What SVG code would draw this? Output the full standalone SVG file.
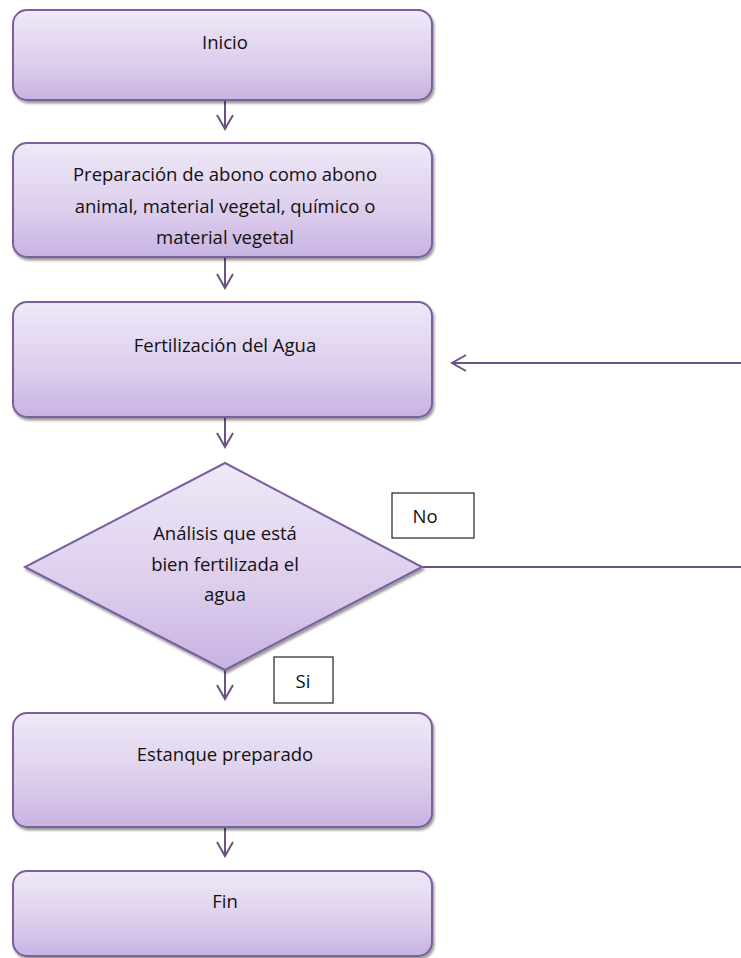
<svg xmlns="http://www.w3.org/2000/svg" width="741" height="958" viewBox="0 0 741 958">
<defs>
<linearGradient id="g" x1="0" y1="0" x2="0" y2="1">
<stop offset="0" stop-color="#efe9f7"/>
<stop offset="0.6" stop-color="#dccdec"/>
<stop offset="1" stop-color="#c8b3e2"/>
</linearGradient>
<marker id="arr" viewBox="0 0 20 20" refX="18" refY="10" markerWidth="20" markerHeight="20" markerUnits="userSpaceOnUse" orient="auto">
<path d="M4,2 L18,10 L4,18" fill="none" stroke="#6a5283" stroke-width="2"/>
</marker>
<filter id="sh" x="-5%" y="-5%" width="110%" height="115%">
<feDropShadow dx="1.5" dy="2.5" stdDeviation="1" flood-color="#000" flood-opacity="0.4"/>
</filter>
</defs>
<style>
.n{fill:url(#g);stroke:#7b5e9c;stroke-width:2;filter:url(#sh)}
.t{font-family:"Open Sans","Liberation Sans",Arial,sans-serif;font-size:18.5px;fill:#111;text-anchor:middle}
.c{fill:none;stroke:#6a5283;stroke-width:2}
.l{fill:#fff;stroke:#222;stroke-width:1.2}
</style>
<g id="connectors">
<line class="c" x1="225" y1="101" x2="225" y2="129" marker-end="url(#arr)"/>
<line class="c" x1="225" y1="258" x2="225" y2="288" marker-end="url(#arr)"/>
<line class="c" x1="225" y1="418" x2="225" y2="447" marker-end="url(#arr)"/>
<line class="c" x1="225" y1="670" x2="225" y2="699" marker-end="url(#arr)"/>
<line class="c" x1="225" y1="828" x2="225" y2="856" marker-end="url(#arr)"/>
<line class="c" x1="422" y1="567" x2="741" y2="567"/>
<line class="c" x1="741" y1="363" x2="452" y2="363" marker-end="url(#arr)"/>
</g>
<g id="inicio">
<rect class="n" x="13" y="10" width="419" height="90" rx="14"/>
<text class="t" x="225" y="49">Inicio</text>
</g>
<g id="preparacion">
<rect class="n" x="13" y="143" width="419" height="114" rx="14"/>
<text class="t" x="225" y="181">Preparación de abono como abono</text>
<text class="t" x="225" y="213">animal, material vegetal, químico o</text>
<text class="t" x="225" y="244">material vegetal</text>
</g>
<g id="fertilizacion">
<rect class="n" x="13" y="302" width="419" height="115" rx="14"/>
<text class="t" x="225" y="352">Fertilización del Agua</text>
</g>
<g id="analisis">
<polygon class="n" points="225,463 422,567 225,670 25,567"/>
<text class="t" x="225" y="540">Análisis que está</text>
<text class="t" x="225" y="571">bien fertilizada el</text>
<text class="t" x="225" y="601">agua</text>
</g>
<g id="label-no">
<rect class="l" x="392" y="493" width="82" height="45"/>
<text class="t" x="425" y="523">No</text>
</g>
<g id="label-si">
<rect class="l" x="274" y="657" width="59" height="46"/>
<text class="t" x="303" y="688">Si</text>
</g>
<g id="estanque">
<rect class="n" x="13" y="713" width="419" height="114" rx="14"/>
<text class="t" x="225" y="761">Estanque preparado</text>
</g>
<g id="fin">
<rect class="n" x="13" y="871" width="419" height="85" rx="14"/>
<text class="t" x="225" y="908">Fin</text>
</g>
</svg>
